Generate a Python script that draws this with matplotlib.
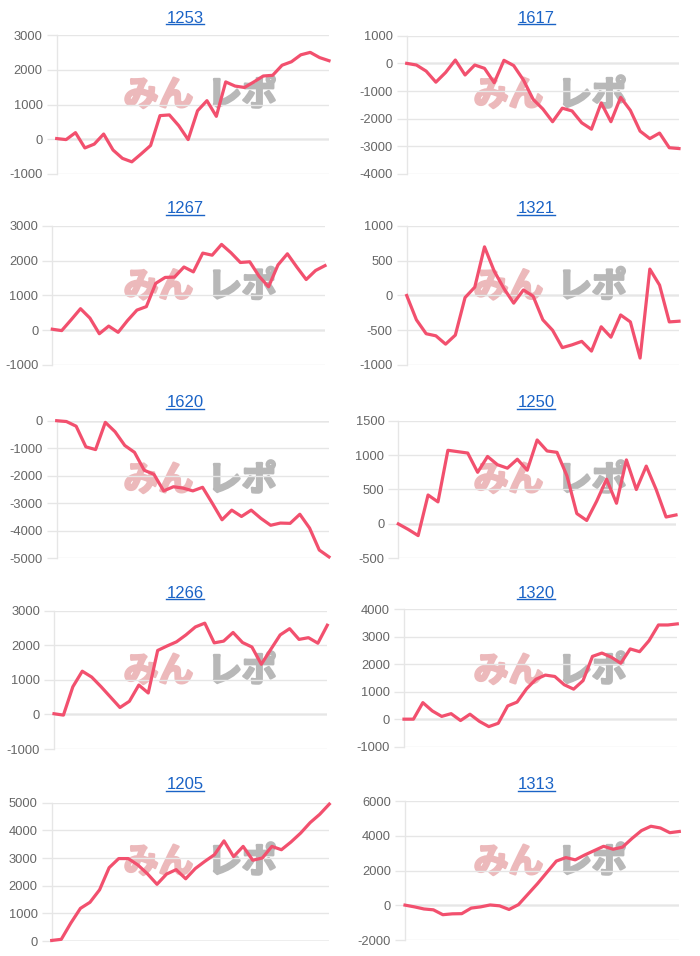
import matplotlib
matplotlib.use("Agg")
import matplotlib.pyplot as plt
from matplotlib.lines import Line2D
import matplotlib.patheffects as pe

# ---------------- data ----------------
titles = ["1253", "1617", "1267", "1321", "1620", "1250", "1266", "1320", "1205", "1313"]

v1253 = [20, -10, 190, -250, -140, 150, -310, -550, -650, -420, -180, 680, 700, 390, -10,
         820, 1110, 660, 1650, 1530, 1490, 1650, 1820, 1840, 2130, 2230, 2430, 2500, 2350, 2260]
v1617 = [0, -60, -280, -680, -330, 120, -420, -60, -180, -700, 110, -80, -600, -1300, -1650,
         -2110, -1620, -1720, -2150, -2380, -1430, -2110, -1230, -1700, -2450, -2720, -2520, -3050, -3080]
v1267 = [30, -10, 300, 620, 350, -100, 120, -60, 280, 580, 680, 1350, 1520, 1530, 1820,
         1680, 2220, 2160, 2470, 2230, 1950, 1970, 1550, 1250, 1880, 2200, 1820, 1460, 1720, 1860]
v1321 = [0, -350, -550, -580, -700, -570, -30, 120, 700, 350, 100, -110, 80, -10, -350,
         -500, -750, -710, -660, -800, -450, -600, -280, -380, -900, 380, 150, -380, -370]
v1620 = [0, -30, -200, -950, -1050, -60, -400, -900, -1150, -1800, -1950, -2550, -2400, -2450, -2550,
         -2420, -3000, -3600, -3250, -3480, -3250, -3550, -3800, -3720, -3730, -3400, -3900, -4700, -4950]
v1250 = [0, -80, -170, 420, 320, 1070, 1050, 1030, 750, 980, 860, 810, 940, 780, 1220,
         1060, 1040, 700, 150, 50, 330, 650, 300, 930, 500, 840, 500, 100, 130]
v1266 = [20, -20, 800, 1250, 1080, 800, 500, 200, 380, 850, 620, 1850, 1980, 2100, 2300,
         2530, 2640, 2070, 2120, 2370, 2080, 1950, 1450, 1880, 2300, 2480, 2170, 2220, 2060, 2580]
v1320 = [0, 0, 600, 300, 100, 200, -50, 180, -80, -270, -150, 480, 620, 1100, 1450,
         1600, 1550, 1250, 1090, 1400, 2280, 2400, 2250, 2030, 2550, 2450, 2850, 3420, 3420, 3460]
v1205 = [20, 60, 650, 1180, 1400, 1850, 2650, 2980, 2980, 2750, 2430, 2050, 2420, 2580, 2250,
         2620, 2880, 3120, 3620, 3050, 3420, 2920, 3000, 3420, 3300, 3580, 3900, 4280, 4580, 4950]
v1313 = [20, -80, -200, -250, -530, -480, -470, -150, -80, 30, -20, -230, 50, 650, 1250,
         1900, 2550, 2750, 2620, 2900, 3150, 3400, 3230, 3350, 3850, 4300, 4550, 4450, 4180, 4250]

series = [v1253, v1617, v1267, v1321, v1620, v1250, v1266, v1320, v1205, v1313]

ticks1253 = [-1000, 0, 1000, 2000, 3000]
ticks1617 = [-4000, -3000, -2000, -1000, 0, 1000]
ticks1267 = [-1000, 0, 1000, 2000, 3000]
ticks1321 = [-1000, -500, 0, 500, 1000]
ticks1620 = [-5000, -4000, -3000, -2000, -1000, 0]
ticks1250 = [-500, 0, 500, 1000, 1500]
ticks1266 = [-1000, 0, 1000, 2000, 3000]
ticks1320 = [-1000, 0, 1000, 2000, 3000, 4000]
ticks1205 = [0, 1000, 2000, 3000, 4000, 5000]
ticks1313 = [-2000, 0, 2000, 4000, 6000]
ticks = [ticks1253, ticks1617, ticks1267, ticks1321, ticks1620,
         ticks1250, ticks1266, ticks1320, ticks1205, ticks1313]

# ---------------- layout (pixels) ----------------
W, H = 700, 956
rects = [
    (56.7, 35.0, 329.0, 174.0),
    (406.7, 35.7, 679.0, 174.0),
    (52.3, 226.0, 325.0, 365.0),
    (406.7, 226.0, 679.0, 365.0),
    (56.7, 420.7, 329.0, 558.3),
    (398.3, 420.7, 676.0, 558.3),
    (54.0, 610.7, 327.3, 749.0),
    (404.0, 609.0, 677.3, 746.7),
    (51.7, 802.7, 329.3, 941.0),
    (405.0, 801.0, 679.3, 940.3),
]
title_base = [22.7, 213.3, 407.3, 597.7, 789.3]
title_x = [185, 536]
wm_y = [95, 286.5, 480, 671, 862]

LINE = "#f2506e"
GRID = "#e6e6e6"
ZERO = "#b4b4b4"
TITLE_C = "#1a63c6"
WM_PINK = "#ecb9bb"
WM_GREY = "#b8b8b8"

plt.rcParams["font.family"] = ["Liberation Sans", "DejaVu Sans"]

fig = plt.figure(figsize=(W / 100, H / 100), dpi=100)
fig.patch.set_facecolor("white")

title_texts = []
for i, (vals, tk, title) in enumerate(zip(series, ticks, titles)):
    l, t, r, b = rects[i]
    ax = fig.add_axes([l / W, 1 - b / H, (r - l) / W, (b - t) / H])
    ax.set_facecolor("none")
    x = list(range(len(vals)))
    ax.plot(x, vals, color=LINE, lw=2.3, solid_joinstyle="round", clip_on=False, zorder=5)
    ax.set_xlim(0, len(vals) - 1)
    ax.set_ylim(tk[0], tk[-1])
    ax.set_yticks(tk)
    ax.set_yticklabels([str(v) for v in tk])
    ax.set_xticks([])
    ax.grid(axis="y", color=GRID, lw=1, zorder=0)
    ax.axhline(0, color=ZERO, lw=1, zorder=1)
    ax.tick_params(axis="y", length=7, width=1, color=GRID, labelsize=9.3,
                   labelcolor="#666666", pad=3)
    for s in ["top", "right", "bottom"]:
        ax.spines[s].set_visible(False)
    ax.spines["left"].set_color(GRID)
    ax.spines["left"].set_linewidth(1)

    row, col = i // 2, i % 2
    tt = fig.text(title_x[col] / W, 1 - title_base[row] / H, title, ha="center",
                  va="baseline", fontsize=12, color=TITLE_C)
    title_texts.append(tt)

    # watermark (drawn beneath the axes content)
    cx = 158.5 + 350 * col
    gx = 242 + 350 * col
    cy = 1 - wm_y[row] / H
    fig.text(cx / W, cy, "みん", ha="center", va="center", fontsize=25,
             fontweight="bold", color=WM_PINK,
             family=["Noto Sans CJK JP", "DejaVu Sans"], zorder=-1,
             path_effects=[pe.withStroke(linewidth=1.8, foreground=WM_PINK)])
    fig.text(gx / W, cy, "レポ", ha="center", va="center", fontsize=25,
             fontweight="bold", color=WM_GREY,
             family=["Noto Sans CJK JP", "DejaVu Sans"], zorder=-1,
             path_effects=[pe.withStroke(linewidth=1.8, foreground=WM_GREY)])

# underline titles
fig.canvas.draw()
renderer = fig.canvas.get_renderer()
for idx, tt in enumerate(title_texts):
    bb = tt.get_window_extent(renderer)
    base_px = title_base[idx // 2]
    yy = 1 - (base_px + 1.5) / H
    fig.add_artist(Line2D([bb.x0 / W, bb.x1 / W], [yy, yy], color=TITLE_C, lw=1.0,
                          transform=fig.transFigure))

fig.savefig("out.png", dpi=100, facecolor="white")
